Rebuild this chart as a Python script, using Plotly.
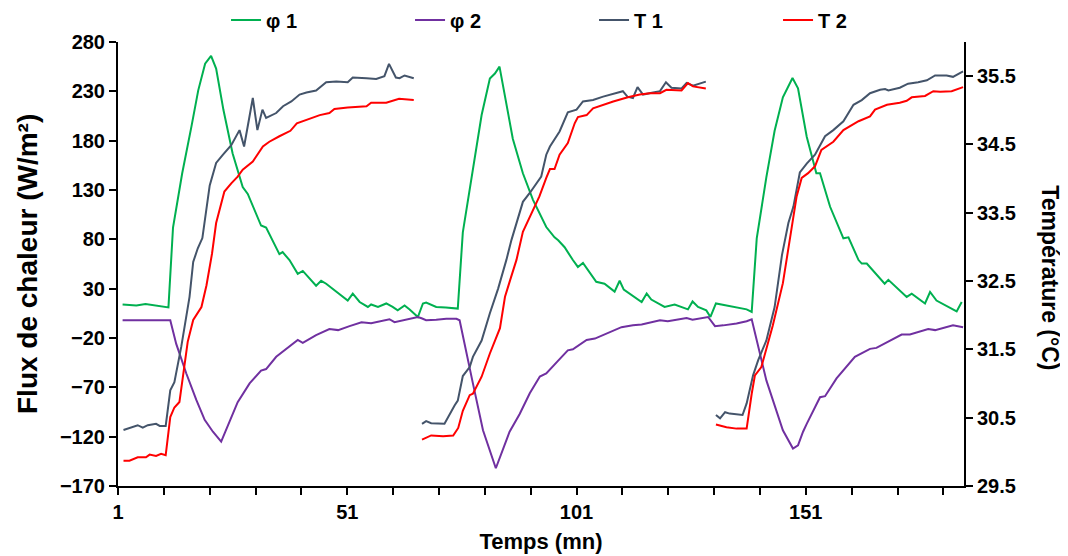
import plotly.graph_objects as go

# ---- data ----
phi1_x = [2, 5, 7, 9, 11, 12, 13, 15, 17, 18.5, 20, 21.3, 22.4, 24, 26, 28.2, 29.3, 32.2, 33.3, 36.2, 36.9, 38.4,
          40.2, 41.3, 44.2, 45.3, 46.4, 48.6, 51.1, 52.2, 53.7, 55.5, 56.2, 57.7, 59.5, 60.9, 62, 63.5, 64.6, 66.4,
          67.5, 68.2, 70.4, 72.5, 74.1, 75.1, 76.2, 78.4, 80.3, 82.1, 83.2, 84.2, 87.1, 89.3, 91.5, 94.4, 96.2, 97,
          98.4, 100.2, 101.3, 102.4, 105.3, 107.1, 109.3, 110.4, 111.3, 115.2, 116.3, 117.3, 120.2, 122.4, 125.3,
          126.3, 127.5, 129.3, 130.2, 131.4, 134.4, 138.1, 139.2, 140.3, 142.4, 144.2, 146, 148.1, 149.3, 151.2,
          153.3, 154.1, 156.3, 159.2, 160.3, 162.5, 163.2, 164.3, 168.2, 169, 173, 174.1, 177, 178.1, 179.5, 183.9, 185]
phi1_y = [14, 13, 14.5, 13, 12, 11, 92, 147, 194, 231, 258, 266, 253, 211, 167, 133, 126, 94, 92, 65, 67, 59,
          45, 48, 33, 38, 35, 27, 18, 25, 16.5, 11.5, 14, 11.5, 15, 11.5, 8, 13, 9, 1.3,
          15, 16, 11.5, 11, 10.6, 9.8, 87, 150, 206, 243, 248, 255, 182, 147, 120, 92.5, 82, 79,
          72, 59, 52, 56, 37, 35, 27, 38, 29, 16.5, 25, 19, 11.5, 14, 9,
          17, 11.5, 8, 1.3, 15, 12.5, 9, 6.5, 81, 143, 190, 224, 243.5, 233, 184,
          147, 147, 113, 81, 82, 59, 55.4, 55.4, 35, 39, 21.6, 25, 15, 26.6, 18, 7, 16.5]

phi2_x = [2, 12.4, 13.7, 15.9, 18.1, 19.9, 21.7, 23.5, 27.1, 29.7, 32.2, 33.3, 35.5, 37.7, 40.2, 41.3, 44.2, 47.1,
          49, 51.5, 54.1, 56.2, 60.2, 61.3, 63.9, 66.4, 67.2, 68.2, 70.4, 72.6, 74.8, 75.5, 78.4, 80.6, 83.4, 86.4,
          88.6, 90.8, 93, 94.4, 97, 99.1, 100.2, 103.2, 105, 108.2, 110.8, 113.3, 115.2, 119.2, 120.9, 125, 126.3,
          129.7, 131.2, 133, 135.9, 138.1, 139.2, 142.4, 146, 148.2, 149.3, 150.4, 151.2, 154.1, 155.2, 157.7,
          161.7, 165, 166.4, 171.9, 173.7, 177.7, 179.2, 183.1, 185.3]
phi2_y = [-2, -2, -26, -56, -83, -103, -115, -125, -85, -66, -53, -51.5, -39, -31, -22, -25, -17, -11,
          -12, -8, -4, -5, -1, -4, -1, 1.3, 0, -2, -1.5, -0.5, -0.5, -2, -66, -113.5, -152, -115,
          -97, -76, -59, -56, -43, -32.5, -31.5, -22, -20.6, -14, -9, -7, -6.3, -2, -3, 0.3, -1.4,
          1.3, -8, -7.2, -5.4, -3, -1, -63, -113.5, -132, -128.7, -115, -107, -80, -79, -61,
          -39, -31, -30, -16.5, -16.5, -11, -12, -7, -9]

t1_x = [2.2, 5.3, 6.4, 7.5, 9.3, 10.1, 11.4, 12.4, 13.3, 14.8, 16.6, 17.4, 18.4, 19.4, 21, 22.4, 23.9, 25.7,
        27.5, 28.5, 30.4, 31.4, 32.5, 33.3, 35.5, 37, 38.8, 40.6, 42.1, 44.2, 46.4, 48.6, 51.1, 52.2, 55.2, 57.3,
        59.1, 60.1, 61.6, 62.4, 63.5, 65.5, None,
        67.3, 68.2, 69.3, 72.2, 74.4, 75.1, 76.2, 77.7, 78.4, 80.3, 82.1, 83.9, 85.7, 86.8, 89.3, 90.8, 93.3,
        94.4, 95.2, 97.3, 99.1, 101, 102.4, 104.6, 106.8, 109, 111.1, 112.1, 113.3, 114.3, 115.5, 117.7, 119.2,
        120.5, 121.7, 123.9, 125, 126.4, 127.9, 129.2, None,
        131.4, 132.3, 133.4, 134.4, 137.2, 138.1, 139.5, 140.6, 142.4, 144.2, 145.8, 147.2, 148.3, 149.7, 151.2,
        153, 155.2, 157, 159.2, 161.4, 163.2, 165, 167.2, 168.3, 169, 171.5, 173.3, 175.5, 177.4, 179.2, 181.7,
        183.1, 185.3]
t1_y = [30.32, 30.39, 30.355, 30.39, 30.41, 30.38, 30.38, 30.9, 31.02, 31.54, 32.27, 32.78, 32.98, 33.13, 33.9,
        34.23, 34.35, 34.49, 34.71, 34.47, 35.18, 34.71, 35.01, 34.89, 34.96, 35.06, 35.13, 35.23, 35.26, 35.29,
        35.41, 35.42, 35.41, 35.48, 35.47, 35.46, 35.5, 35.68, 35.48, 35.47, 35.51, 35.47, None,
        30.41, 30.45, 30.42, 30.41, 30.68, 30.75, 31.11, 31.24, 31.39, 31.63, 32.03, 32.39, 32.81, 33.1, 33.66,
        33.79, 34.03, 34.35, 34.47, 34.69, 34.97, 35.01, 35.13, 35.15, 35.2, 35.24, 35.28, 35.2, 35.18, 35.34,
        35.23, 35.26, 35.28, 35.41, 35.33, 35.32, 35.4, 35.36, 35.39, 35.42, None,
        30.54, 30.49, 30.58, 30.56, 30.54, 30.71, 31.12, 31.34, 31.63, 32.12, 32.88, 33.35, 33.59, 34.09, 34.22,
        34.35, 34.62, 34.71, 34.84, 35.08, 35.15, 35.25, 35.3, 35.31, 35.29, 35.33, 35.39, 35.41, 35.44, 35.51,
        35.51, 35.49, 35.57]

t2_x = [2.2, 3.5, 5.3, 7.1, 7.9, 9.3, 10.4, 11.4, 12.4, 13.3, 14.4, 16.2, 17.4, 19.2, 20.3, 21.5, 22.4, 24.2,
        25.7, 27.1, 28.2, 30.4, 32.6, 34, 36.2, 38.6, 40, 42.8, 45, 47.1, 48.2, 51.1, 55.2, 56.2, 59.5, 62.3,
        63.5, 65.5, None,
        67.3, 69.3, 71.9, 74.1, 75.2, 76.2, 77.7, 78.4, 80.3, 82.1, 84.3, 85.4, 86.5, 87.9, 89.3, 90.8, 92.9,
        94.4, 95.2, 96.2, 97.3, 99.1, 100.6, 101.3, 103.2, 104.6, 106.8, 109, 112.2, 114.8, 117, 119.2, 120.6,
        123.9, 125.3, 126.4, 129.2, None,
        131.4, 133.7, 135.9, 138.1, 139.2, 139.9, 141.3, 143.8, 146, 147.9, 149, 150.1, 151.5, 153, 154.4, 157,
        159.2, 162.5, 165, 166.1, 168.7, 171.5, 173, 174.1, 177, 178.8, 180.3, 182.8, 185.3]
t2_y = [29.87, 29.87, 29.92, 29.92, 29.96, 29.94, 29.97, 29.95, 30.51, 30.65, 30.73, 31.61, 31.93, 32.12, 32.44,
        32.9, 33.35, 33.81, 33.93, 34.03, 34.13, 34.25, 34.47, 34.54, 34.62, 34.7, 34.81, 34.88, 34.93, 34.96,
        35.02, 35.04, 35.06, 35.11, 35.11, 35.17, 35.16, 35.15, None,
        30.18, 30.24, 30.23, 30.24, 30.35, 30.6, 30.83, 30.85, 31.1, 31.44, 31.81, 32.27, 32.51, 32.81, 33.22,
        33.44, 33.74, 34.01, 34.14, 34.14, 34.35, 34.52, 34.81, 34.9, 34.93, 35.03, 35.08, 35.13, 35.19, 35.23,
        35.25, 35.25, 35.3, 35.29, 35.4, 35.35, 35.32, None,
        30.4, 30.36, 30.34, 30.34, 30.85, 31.12, 31.24, 31.85, 32.47, 33.3, 33.74, 34.01, 34.08, 34.18, 34.42,
        34.54, 34.71, 34.84, 34.91, 35.01, 35.08, 35.11, 35.14, 35.19, 35.21, 35.28, 35.27, 35.28, 35.34]

x_tickvals = list(range(1, 182, 10))
x_ticktext = [str(v) if v in (1, 51, 101, 151) else "" for v in x_tickvals]
left_ticks = list(range(-170, 281, 50))
right_ticks = [29.5, 30.5, 31.5, 32.5, 33.5, 34.5, 35.5]

FONT = "Liberation Sans, Arial, sans-serif"

fig = go.Figure()
fig.add_trace(go.Scatter(x=phi1_x, y=phi1_y, name="<b>φ 1</b>", mode="lines",
                         line=dict(color="#00B050", width=2)))
fig.add_trace(go.Scatter(x=phi2_x, y=phi2_y, name="<b>φ 2</b>", mode="lines",
                         line=dict(color="#7030A0", width=2)))
fig.add_trace(go.Scatter(x=t1_x, y=t1_y, name="<b>T 1</b>", mode="lines", yaxis="y2",
                         connectgaps=False, line=dict(color="#44546A", width=2)))
fig.add_trace(go.Scatter(x=t2_x, y=t2_y, name="<b>T 2</b>", mode="lines", yaxis="y2",
                         connectgaps=False, line=dict(color="#FF0000", width=2)))

axis_common = dict(showgrid=False, zeroline=False, showline=True, linecolor="black", linewidth=2,
                   ticks="outside", ticklen=7, tickwidth=2, tickcolor="black", automargin=False,
                   tickfont=dict(family=FONT, size=20, color="black", weight="bold"))

# the page body adds an 8px offset, so the figure is 8px smaller and margins shifted
fig.update_layout(
    width=1060, height=548,
    margin=dict(l=110, r=104, t=34, b=70, autoexpand=False),
    paper_bgcolor="white", plot_bgcolor="white",
    font=dict(family=FONT, color="black"),
    xaxis=dict(range=[1, 185.5], tickmode="array", tickvals=x_tickvals, ticktext=x_ticktext,
               title=dict(text="<b>Temps (mn)</b>", font=dict(family=FONT, size=22, color="black"), standoff=12),
               **axis_common),
    yaxis=dict(range=[-170, 280], tickmode="array", tickvals=left_ticks, **axis_common),
    yaxis2=dict(range=[29.5, 36.0], tickmode="array", tickvals=right_ticks, overlaying="y", side="right",
                **axis_common),
    legend=dict(orientation="h", xref="paper", yref="paper", x=0.1277, xanchor="left",
                y=1.0495, yanchor="middle",
                entrywidth=139, entrywidthmode="pixels",
                font=dict(family=FONT, size=20, color="black"), bgcolor="rgba(0,0,0,0)"),
    annotations=[
        dict(text="<b>Flux de chaleur (W/m²)</b>", textangle=-90, xref="paper", yref="paper",
             x=0.0, y=0.5, xanchor="center", yanchor="middle", xshift=-91, showarrow=False,
             font=dict(family=FONT, size=28, color="black")),
        dict(text="<b>Température (°C)</b>", textangle=90, xref="paper", yref="paper",
             x=1.0, y=0.47, xanchor="center", yanchor="middle", xshift=86, showarrow=False,
             font=dict(family=FONT, size=23, color="black")),
    ],
    showlegend=True,
)

fig.write_html("out.html")
